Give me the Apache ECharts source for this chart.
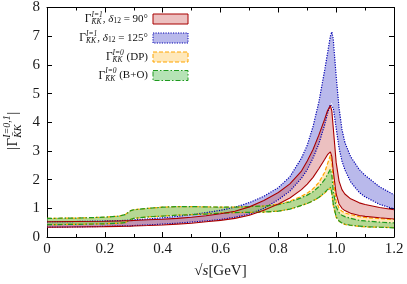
<!DOCTYPE html>
<html><head><meta charset="utf-8">
<script src="https://cdn.jsdelivr.net/npm/echarts@6/dist/echarts.min.js"></script>
<style>html,body{margin:0;padding:0;background:#fff}#c{width:407px;height:284px}</style>
</head><body><div id="c"></div>
<script>
// ---- data ----
const xs = [0, 0.1, 0.2, 0.25, 0.27, 0.29, 0.3, 0.35, 0.4, 0.45, 0.5, 0.55, 0.6, 0.65, 0.7, 0.75, 0.8, 0.84, 0.88, 0.9, 0.92, 0.94, 0.96, 0.97, 0.98, 0.985, 0.99, 1.0, 1.01, 1.02, 1.03, 1.05, 1.08, 1.1, 1.15, 1.2];
const blueUpper = [0.53,0.54,0.56,0.57,0.58,0.59,0.60,0.63,0.67,0.72,0.78,0.85,0.93,1.04,1.2,1.42,1.72,2.1,2.75,3.2,3.85,4.7,5.8,6.4,7.0,7.15,6.9,5.6,4.5,3.75,3.3,2.8,2.35,2.15,1.75,1.47];
const blueLower = [0.34,0.35,0.37,0.38,0.39,0.39,0.40,0.42,0.45,0.48,0.52,0.56,0.61,0.69,0.8,1.0,1.3,1.6,2.05,2.35,2.75,3.25,3.9,4.3,4.62,4.68,4.5,3.8,3.1,2.65,2.35,1.92,1.55,1.4,1.14,0.98];
const redUpper = [0.53,0.54,0.55,0.56,0.565,0.57,0.575,0.6,0.62,0.65,0.69,0.74,0.81,0.9,1.05,1.27,1.55,1.85,2.3,2.65,3.05,3.55,4.1,4.4,4.58,4.4,3.8,2.6,1.95,1.65,1.5,1.33,1.19,1.13,1.03,0.95];
const redLower = [0.34,0.35,0.36,0.37,0.375,0.38,0.385,0.4,0.42,0.45,0.48,0.53,0.58,0.65,0.76,0.93,1.15,1.36,1.65,1.84,2.08,2.38,2.7,2.87,2.97,2.8,2.3,1.5,1.15,1.0,0.92,0.83,0.75,0.72,0.67,0.63];
const orangeUpper = [0.65,0.66,0.69,0.73,0.78,0.92,0.95,1.0,1.04,1.06,1.06,1.05,1.04,1.04,1.06,1.08,1.14,1.25,1.42,1.53,1.68,1.9,2.25,2.55,2.85,2.6,2.0,1.25,1.0,0.9,0.84,0.78,0.71,0.68,0.64,0.61];
const orangeLower = [0.43,0.44,0.46,0.48,0.5,0.62,0.65,0.7,0.73,0.76,0.78,0.8,0.83,0.85,0.86,0.87,0.9,0.97,1.1,1.17,1.26,1.37,1.53,1.62,1.7,1.5,1.1,0.68,0.55,0.48,0.44,0.4,0.37,0.35,0.34,0.33];
const greenUpper = [0.65,0.66,0.69,0.73,0.78,0.92,0.95,1.0,1.04,1.06,1.06,1.05,1.04,1.04,1.06,1.08,1.13,1.22,1.37,1.46,1.58,1.75,2.0,2.18,2.36,2.15,1.6,1.05,0.85,0.76,0.71,0.65,0.58,0.56,0.52,0.49];
const greenLower = [0.43,0.44,0.46,0.48,0.5,0.62,0.65,0.7,0.73,0.76,0.78,0.8,0.83,0.85,0.86,0.87,0.9,0.97,1.1,1.17,1.26,1.38,1.55,1.65,1.74,1.55,1.15,0.7,0.56,0.49,0.45,0.41,0.38,0.36,0.34,0.32];
const xTickLabels = ['0','0.2','0.4','0.6','0.8','1.0','1.2'];
const yTickLabels = ['0','1','2','3','4','5','6','7','8'];

// ---- helpers ----
const SERIF = '"Liberation Serif", "DejaVu Serif", serif';
const pairs = ys => xs.map((x, i) => [x, ys[i]]);
function band(id, lo, hi, fill) {
  return {type:'custom', name:id + '_band', silent:true, z:2, clip:true,
    data:[[xs[0], lo[0]]], encode:{x:0, y:1},
    renderItem:function (params, api) {
      const top = xs.map((x, i) => api.coord([x, hi[i]]));
      const bot = xs.map((x, i) => api.coord([x, lo[i]])).reverse();
      return {type:'polygon', shape:{points:top.concat(bot)}, style:{fill:fill, stroke:null}};
    }};
}
function edge(id, ys, color, type, w) {
  return {type:'line', name:id, data:pairs(ys), symbol:'none', smooth:false, silent:true,
    lineStyle:{color:color, type:type, width:w}, z:3};
}
const C = {
  red:{line:'#a80000', fill:'rgba(205,90,90,0.38)', type:'solid'},
  blue:{line:'#0000b0', fill:'rgba(100,100,210,0.45)', type:[1.2,1.3]},
  orange:{line:'#ffa500', fill:'rgba(255,200,90,0.42)', type:[4,2]},
  green:{line:'#1f9a1f', fill:'rgba(110,200,110,0.5)', type:[5,2,1.5,2]}
};
const series = [
  band('blue', blueLower, blueUpper, C.blue.fill),
  band('red', redLower, redUpper, C.red.fill),
  band('orange', orangeLower, orangeUpper, C.orange.fill),
  band('green', greenLower, greenUpper, C.green.fill),
  edge('blueU', blueUpper, C.blue.line, C.blue.type, 1.2),
  edge('blueL', blueLower, C.blue.line, C.blue.type, 1.2),
  edge('orangeU', orangeUpper, C.orange.line, C.orange.type, 1.2),
  edge('orangeL', orangeLower, C.orange.line, C.orange.type, 1.2),
  edge('greenU', greenUpper, C.green.line, C.green.type, 1.2),
  edge('greenL', greenLower, C.green.line, C.green.type, 1.2),
  edge('redU', redUpper, C.red.line, 'solid', 1.1),
  edge('redL', redLower, C.red.line, 'solid', 1.1)
];

// ---- text measurement for hand-set math labels ----
const mctx = document.createElement('canvas').getContext('2d');
function tw(t, size, italic) { mctx.font = (italic ? 'italic ' : '') + size + 'px ' + SERIF; return mctx.measureText(t).width; }
function txt(t, x, y, size, italic) {
  return {type:'text', x:x, y:y, silent:true,
    style:{text:t, font:(italic ? 'italic ' : '') + size + 'px ' + SERIF, fill:'#111', textAlign:'left', textVerticalAlign:'middle', verticalAlign:'middle'}};
}
const graphics = [];
const legendRows = [
  {sup:'I=1', tail:[[', ',11,false,0],['δ',11,true,0],['12',7.5,false,2.5],[' = 90°',11,false,0]], c:C.red, y:19},
  {sup:'I=1', tail:[[', ',11,false,0],['δ',11,true,0],['12',7.5,false,2.5],[' = 125°',11,false,0]], c:C.blue, y:38},
  {sup:'I=0', tail:[[' (DP)',11,false,0]], c:C.orange, y:57},
  {sup:'I=0', tail:[[' (B+O)',11,false,0]], c:C.green, y:75.5}
];
const XR = 148;
legendRows.forEach(r => {
  const gW = tw('Γ', 11.5, false);
  const sW = Math.max(tw(r.sup, 7.5, true), tw('K̄K', 7.5, true));
  const tailW = r.tail.reduce((s, t) => s + tw(t[0], t[1], t[2]), 0);
  let x = XR - tailW - sW - gW;
  graphics.push(txt('Γ', x, r.y, 11.5, false));
  x += gW;
  graphics.push(txt(r.sup, x, r.y - 4, 7.5, true));
  graphics.push(txt('K̄K', x, r.y + 3.5, 7.5, true));
  x += sW;
  r.tail.forEach(t => { graphics.push(txt(t[0], x, r.y + t[3], t[1], t[2])); x += tw(t[0], t[1], t[2]); });
  graphics.push({type:'rect', silent:true, shape:{x:153, y:r.y - 5, width:35, height:10},
    style:{fill:r.c.fill, stroke:r.c.line, lineWidth:1, lineDash:(r.c.type === 'solid' ? null : r.c.type)}});
});
(function () {
  const kids = [];
  let x = 0;
  kids.push(txt('|', x, 0, 15, false)); x += tw('|', 15, false) + 0.5;
  kids.push(txt('Γ', x, 0, 15, false)); x += tw('Γ', 15, false);
  const sw = Math.max(tw('I=0,1', 10, true), tw('K̄K', 10, true));
  kids.push(txt('I=0,1', x, -6, 10, true));
  kids.push(txt('K̄K', x, 5, 10, true));
  x += sw + 0.5;
  kids.push(txt('|', x, 0, 15, false));
  graphics.push({type:'group', x:13, y:150, rotation:Math.PI / 2, silent:true, children:kids});
})();

const axisCommon = {
  axisLine:{show:true, onZero:false, lineStyle:{color:'#000', width:1}},
  axisTick:{show:true, inside:true, length:5, lineStyle:{color:'#000', width:1}},
  splitLine:{show:false}
};
const labelStyle = {color:'#1a1a1a', fontFamily:SERIF, fontSize:15};
const option = {
  animation:false,
  backgroundColor:'#fff',
  grid:{left:47, right:13, top:6, bottom:43, containLabel:false},
  xAxis:[
    Object.assign({type:'value', min:0, max:1.2, interval:0.2, position:'bottom',
      minorTick:{show:true, splitNumber:2, length:3, lineStyle:{color:'#000'}},
      axisLabel:Object.assign({margin:5, formatter:v => xTickLabels[Math.round(v / 0.2)]}, labelStyle),
      name:'{n|√}{i|s}{n|[GeV]}', nameLocation:'middle', nameGap:27,
      nameTextStyle:{rich:{n:{fontFamily:SERIF, fontSize:15, color:'#1a1a1a'}, i:{fontFamily:SERIF, fontSize:15, fontStyle:'italic', color:'#1a1a1a'}}}
    }, axisCommon),
    Object.assign({type:'value', min:0, max:1.2, interval:0.2, position:'top',
      minorTick:{show:true, splitNumber:2, length:3, lineStyle:{color:'#000'}},
      axisLabel:{show:false}}, axisCommon)
  ],
  yAxis:[
    Object.assign({type:'value', min:0, max:8, interval:1, position:'left',
      axisLabel:Object.assign({margin:7, formatter:v => yTickLabels[Math.round(v)]}, labelStyle)}, axisCommon),
    Object.assign({type:'value', min:0, max:8, interval:1, position:'right', axisLabel:{show:false}}, axisCommon)
  ],
  series:series,
  graphic:graphics
};
const chart = echarts.init(document.getElementById('c'), null, {renderer:'canvas'});
chart.setOption(option);
</script>
</body></html>
